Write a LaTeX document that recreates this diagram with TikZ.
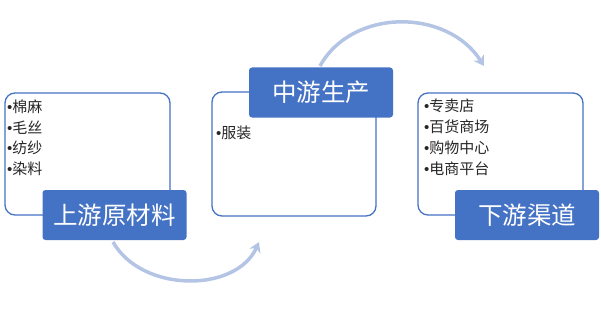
\documentclass[tikz,border=0pt]{standalone}
\usepackage{fontspec}
\newfontfamily\cjk{Noto Sans CJK SC}
\newfontfamily\latin{Liberation Sans}
\newcommand{\bul}{{\latin •}}
\usetikzlibrary{arrows.meta}
\definecolor{chainblue}{HTML}{4472C4}
\definecolor{flowblue}{RGB}{180,196,228}
\tikzset{
  listbox/.style={draw=chainblue,line width=1.3pt,fill=white,rounded corners=10pt,inner sep=0pt},
  stagebox/.style={fill=chainblue,rounded corners=3pt,text=white,font=\cjk\fontsize{24.5}{28}\selectfont,minimum width=144pt,minimum height=50pt,inner sep=0pt},
  item/.style={anchor=west,inner sep=0pt,text=black!85,font=\cjk\fontsize{15}{17}\selectfont},
  flow/.style={draw=flowblue,line width=3.5pt,-{Stealth[length=10pt,width=12pt]}}
}
\begin{document}
\begin{tikzpicture}[x=1pt,y=-1pt]
\useasboundingbox (0,0) rectangle (601,310);
% arrows between stages
\coordinate (up-out) at (113,242);
\coordinate (mid-in) at (259,242);
\coordinate (mid-out) at (320,66);
\coordinate (down-in) at (484,66);
\draw[flow] (up-out) .. controls (142,293) and (236,293) .. (mid-in);
\draw[flow] (mid-out) .. controls (352,8) and (447,8) .. (down-in);
% list boxes
\node[listbox,minimum width=165pt,minimum height=122pt] (uplist) at (87.5,154) {};
\node[listbox,minimum width=164pt,minimum height=124pt] (midlist) at (294,154) {};
\node[listbox,minimum width=165pt,minimum height=122pt] (downlist) at (500.5,154) {};
% items
\node[item] (up1) at (7,107) {\bul 棉麻};
\node[item] (up2) at (7,128) {\bul 毛丝};
\node[item] (up3) at (7,148) {\bul 纺纱};
\node[item] (up4) at (7,169) {\bul 染料};
\node[item] (mid1) at (216,133) {\bul 服装};
\node[item] (down1) at (424,106) {\bul 专卖店};
\node[item] (down2) at (424,127) {\bul 百货商场};
\node[item] (down3) at (424,148) {\bul 购物中心};
\node[item] (down4) at (424,169) {\bul 电商平台};
% stage labels
\node[stagebox] (upstream) at (114.5,215) {上游原材料};
\node[stagebox] (midstream) at (321,92.5) {中游生产};
\node[stagebox] (downstream) at (527,215) {下游渠道};
\end{tikzpicture}
\end{document}
